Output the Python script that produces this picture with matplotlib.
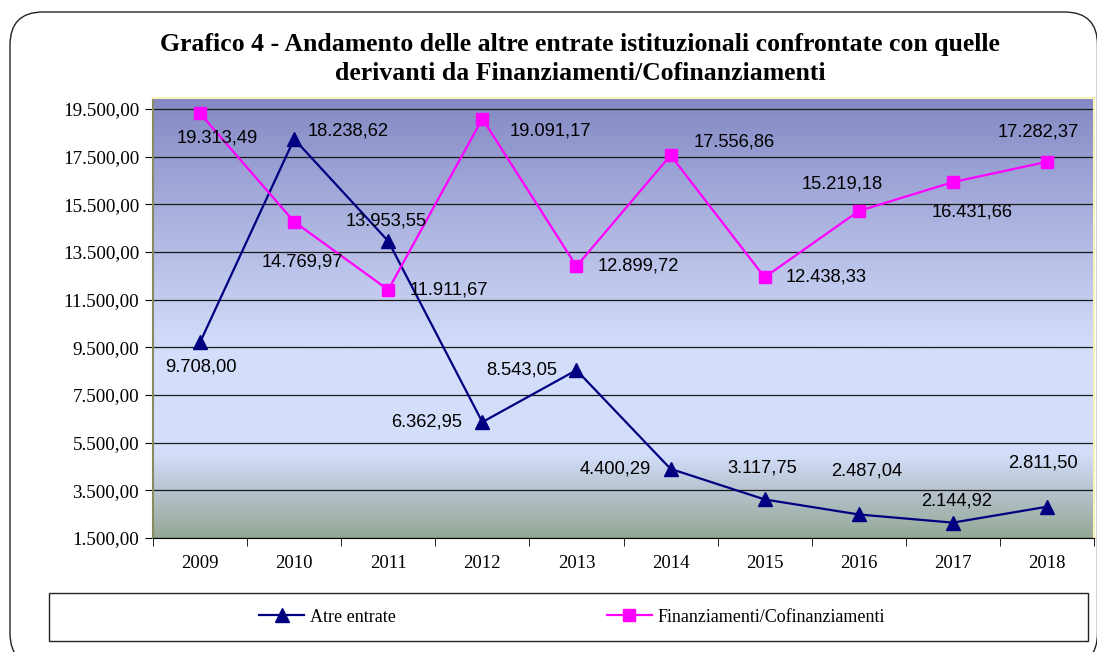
import matplotlib.pyplot as plt
import numpy as np
from matplotlib.colors import LinearSegmentedColormap
from matplotlib.patches import FancyBboxPatch, Rectangle
from matplotlib.lines import Line2D

# dati
anni = ['2009', '2010', '2011', '2012', '2013', '2014', '2015', '2016', '2017', '2018']
altre_entrate = [9708.00, 18238.62, 13953.55, 6362.95, 8543.05, 4400.29, 3117.75, 2487.04, 2144.92, 2811.50]
finanziamenti = [19313.49, 14769.97, 11911.67, 19091.17, 12899.72, 17556.86, 12438.33, 15219.18, 16431.66, 17282.37]
tick_y = [1500, 3500, 5500, 7500, 9500, 11500, 13500, 15500, 17500, 19500]

# spostamento delle etichette (pixel)
off_altre = [(1, -25), (54, 8), (-2, 20), (-56, 0), (-55, 0), (-55, 0), (-2, 31), (8, 43), (4, 22), (-4, 44)]
off_fin = [(17, -25), (8, -40), (61, 0), (68, -12), (62, 0), (64, 13), (61, 0), (-17, 27), (19, -30), (-9, 30)]

W, H = 1097, 652
SERIF = ['Liberation Serif', 'DejaVu Serif']
SANS = ['Liberation Sans', 'DejaVu Sans']


def it_fmt(v):
    s = f"{v:,.2f}"
    return s.replace(',', 'X').replace('.', ',').replace('X', '.')


fig = plt.figure(figsize=(W / 100, H / 100), dpi=100)

# sfondo: riquadro arrotondato e box legenda (coordinate in pixel)
bg = fig.add_axes([0, 0, 1, 1], zorder=0)
bg.set_xlim(0, W)
bg.set_ylim(H, 0)
bg.axis('off')
bg.add_patch(FancyBboxPatch((10, 12), W - 10 + 0.5, 666 - 12, boxstyle='round,pad=0,rounding_size=33',
                            fc='white', ec='#222222', lw=1.0))
bg.add_patch(Rectangle((49, 593), 1088 - 49, 641 - 593, fc='white', ec='#222222', lw=1.0))

fig.text(580 / W, 1 - 45 / H, 'Grafico 4 - Andamento delle altre entrate istituzionali confrontate con quelle',
         ha='center', va='center', fontsize=18.5, fontweight='bold', family=SERIF)
fig.text(580 / W, 1 - 73 / H, 'derivanti da Finanziamenti/Cofinanziamenti',
         ha='center', va='center', fontsize=18.5, fontweight='bold', family=SERIF)

ax = fig.add_axes([153 / W, 1 - 538 / H, (1094 - 153) / W, (538 - 98) / H], zorder=1)
ax.set_xlim(-0.5, len(anni) - 0.5)
ax.set_ylim(1500, 19960)

# gradiente di sfondo dell'area del grafico
cmap = LinearSegmentedColormap.from_list('bg', [
    (0.0, '#95a895'),
    (0.11, '#b8c4d0'),
    (0.19, '#d4defb'),
    (0.43, '#d4defb'),
    (1.0, '#8489c4'),
])
grad = np.linspace(0, 1, 256).reshape(-1, 1)
ax.imshow(grad, extent=(0, 1, 0, 1), transform=ax.transAxes, origin='lower',
          aspect='auto', cmap=cmap, zorder=-2)

ax.set_yticks(tick_y)
ax.set_yticklabels([it_fmt(v) for v in tick_y], family=SERIF, fontsize=13.8)
ax.yaxis.grid(True, color='#1a1a1a', lw=0.9)
ax.set_axisbelow(True)

x = np.arange(len(anni))
ax.set_xticks(x)
ax.set_xticklabels(anni, family=SERIF, fontsize=13.5)
ax.set_xticks(np.arange(len(anni) + 1) - 0.5, minor=True)
ax.tick_params(axis='x', which='major', length=0, pad=12)
ax.tick_params(axis='x', which='minor', length=6, color='black')
ax.tick_params(axis='y', length=6, color='black', pad=4)

for s in ['top', 'right']:
    ax.spines[s].set_color('#f7f2b8')
    ax.spines[s].set_linewidth(1.5)
ax.spines['left'].set_color('#8a8a60')
ax.spines['left'].set_linewidth(1.5)
ax.spines['bottom'].set_color('black')

ax.plot(x, altre_entrate, color='#000080', lw=1.6, marker='^', ms=10, mfc='#000080', mec='#000080', zorder=3)
ax.plot(x, finanziamenti, color='#ff00ff', lw=1.6, marker='s', ms=9, mfc='#ff00ff', mec='#ff00ff', zorder=3)

for xi, v, (dx, dy) in zip(x, altre_entrate, off_altre):
    ax.annotate(it_fmt(v), (xi, v), xytext=(dx, dy), textcoords='offset pixels',
                ha='center', va='center', fontsize=13.2, family=SANS, color='black', zorder=4)
for xi, v, (dx, dy) in zip(x, finanziamenti, off_fin):
    ax.annotate(it_fmt(v), (xi, v), xytext=(dx, dy), textcoords='offset pixels',
                ha='center', va='center', fontsize=13.2, family=SANS, color='black', zorder=4)

handles = [
    Line2D([], [], color='#000080', lw=1.6, marker='^', ms=10),
    Line2D([], [], color='#ff00ff', lw=1.6, marker='s', ms=9),
]
fig.legend(handles, ['Atre entrate', 'Finanziamenti/Cofinanziamenti'], loc='center',
           bbox_to_anchor=(572 / W, 1 - 617 / H), ncol=2, frameon=False,
           prop={'family': SERIF, 'size': 13}, handlelength=2.5, handletextpad=0.3,
           columnspacing=11.7)

fig.savefig('out.png', dpi=100)
